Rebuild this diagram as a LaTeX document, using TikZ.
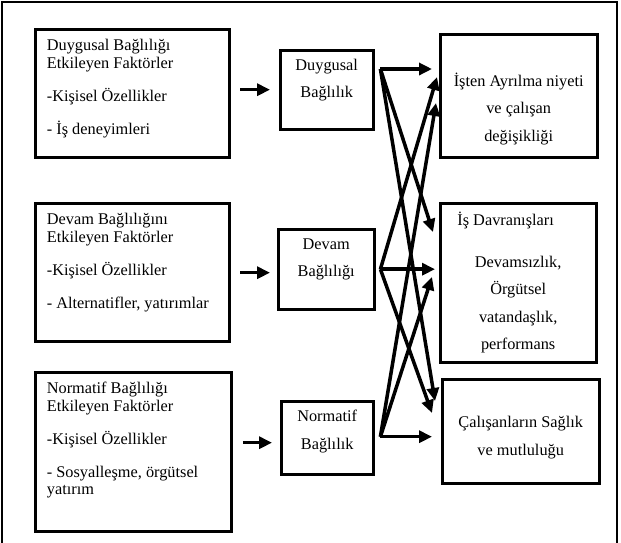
\documentclass[tikz,border=0pt]{standalone}
\usepackage{fontspec}
\setmainfont{Liberation Serif}
\usetikzlibrary{arrows.meta}

\tikzset{
  box/.style={draw,line width=3.4pt,inner sep=0pt,anchor=north west},
  ltxt/.style={inner sep=0pt,anchor=north west,align=left,
    font=\fontsize{16.3}{17.5}\selectfont},
  ctxt/.style={inner sep=0pt,anchor=north,align=center,
    font=\fontsize{16.3}{27.5}\selectfont},
  link/.style={line width=3.5pt,-{Triangle[length=13pt,width=12pt]}}
}

\begin{document}
\begin{tikzpicture}[x=1pt,y=-1pt,thick]
\useasboundingbox (0,0) rectangle (621,542);
\draw[line width=2pt] (1.5,1.5) rectangle (617,548);

% factor boxes
\node[box,minimum width=194pt,minimum height=128pt] (b1) at (33.5,27.5) {};
\node[ltxt] (b1t) at ([shift={(13,11.5)}]b1.north west)
  {Duygusal Bağlılığı\\Etkileyen Faktörler\\[15.5pt]-Kişisel Özellikler\\[15.5pt]- İş deneyimleri};

\node[box,minimum width=194pt,minimum height=138pt] (b2) at (33.5,201.5) {};
\node[ltxt] (b2t) at ([shift={(13,11.5)}]b2.north west)
  {Devam Bağlılığını\\Etkileyen Faktörler\\[15.5pt]-Kişisel Özellikler\\[15.5pt]- Alternatifler, yatırımlar};

\node[box,minimum width=196pt,minimum height=159pt] (b3) at (33.5,370.5) {};
\node[ltxt] (b3t) at ([shift={(13,11.5)}]b3.north west)
  {Normatif Bağlılığı\\Etkileyen Faktörler\\[15.5pt]-Kişisel Özellikler\\[15.5pt]- Sosyalleşme, örgütsel\\yatırım};

% commitment boxes
\node[box,minimum width=93pt,minimum height=79pt] (m1) at (278.5,48.5) {};
\node[ctxt] (m1t) at ([yshift=-10pt]m1.north) {Duygusal\\Bağlılık};

\node[box,minimum width=96pt,minimum height=80pt] (m2) at (276.5,227.5) {};
\node[ctxt] (m2t) at ([yshift=-10.5pt]m2.north) {Devam\\Bağlılığı};

\node[box,minimum width=92pt,minimum height=73pt] (m3) at (279.5,399.5) {};
\node[ctxt] (m3t) at ([yshift=-10.5pt]m3.north) {Normatif\\Bağlılık};

% outcome boxes
\node[box,minimum width=157pt,minimum height=123pt] (r1) at (438.5,32.5) {};
\node[ctxt] (r1t) at ([yshift=-40pt]r1.north) {İşten Ayrılma niyeti\\ve çalışan\\değişikliği};

\node[box,minimum width=156pt,minimum height=159pt] (r2) at (438.5,201.5) {};
\node[ltxt] (r2h) at ([shift={(18.5,10)}]r2.north west) {İş Davranışları};
\node[ctxt] (r2t) at ([yshift=-54pt]r2.north) {Devamsızlık,\\Örgütsel\\vatandaşlık,\\performans};

\node[box,minimum width=157pt,minimum height=104pt] (r3) at (440.5,377.5) {};
\node[ctxt] (r3t) at ([yshift=-38.5pt]r3.north) {Çalışanların Sağlık\\ve mutluluğu};

% arrows into the commitment boxes
\draw[link,shorten <=9.5pt,shorten >=8.5pt] (b1.east |- m1.west) -- (m1.west);
\draw[link,shorten <=9.5pt,shorten >=6.5pt] ([yshift=-3.5pt]b2.east |- m2.west) -- ([yshift=-3.5pt]m2.west);
\draw[link,shorten <=10pt,shorten >=7.5pt] ([yshift=-5pt]b3.east |- m3.west) -- ([yshift=-5pt]m3.west);

% start and end points of the crossing arrows
\coordinate (o1) at ([shift={(5.5,20.5)}]m1.north east);
\coordinate (o2) at ([xshift=4.5pt]m2.east);
\coordinate (o3) at ([shift={(5.5,-1)}]m3.east);
\coordinate (r1a) at ([shift={(-1.5,44.5)}]r1.north west);
\coordinate (r1b) at ([shift={(-2.5,70.5)}]r1.north west);
\coordinate (r2a) at ([shift={(-5.5,30.5)}]r2.north west);
\coordinate (r2b) at ([shift={(-6.5,75.5)}]r2.north west);
\coordinate (r3a) at ([shift={(-5.5,23.5)}]r3.north west);
\coordinate (r3b) at ([shift={(-8.5,35.5)}]r3.north west);

\draw[link,shorten >=6.5pt] (o1) -- (o1 -| r1.west);
\draw[link] (o1) -- (r2a);
\draw[link] (o1) -- (r3a);

\draw[link] (o2) -- (r1a);
\draw[link,shorten >=3.5pt] (o2) -- (o2 -| r2.west);
\draw[link] (o2) -- (r3b);

\draw[link] (o3) -- (r1b);
\draw[link] (o3) -- (r2b);
\draw[link,shorten >=8.5pt] (o3) -- (o3 -| r3.west);
\end{tikzpicture}
\end{document}
